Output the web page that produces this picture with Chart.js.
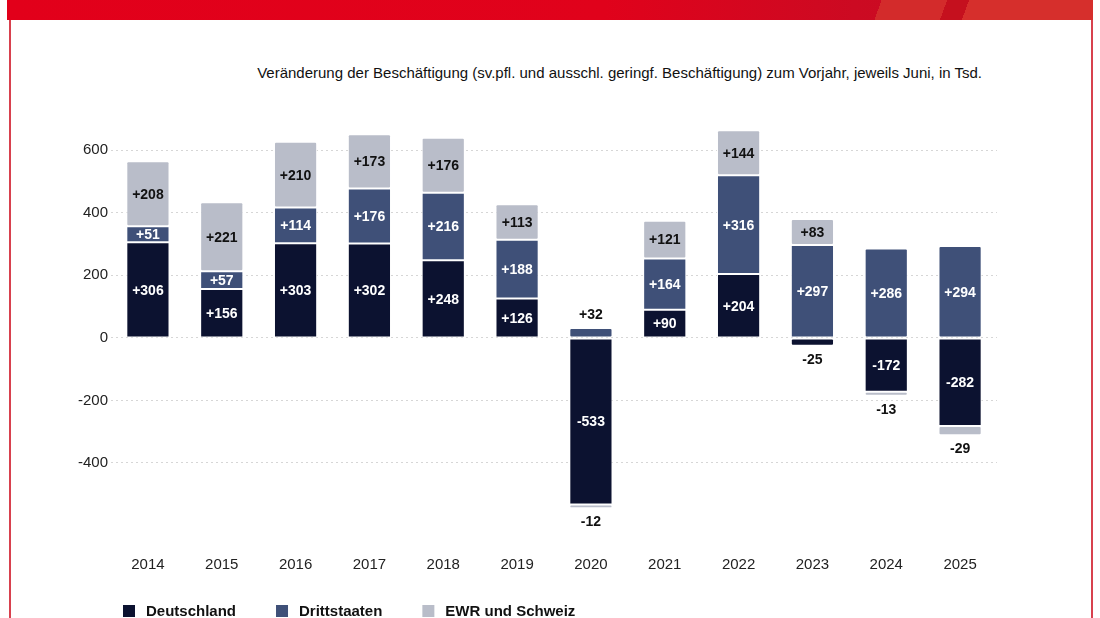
<!DOCTYPE html>
<html>
<head>
<meta charset="utf-8">
<script src="https://cdn.jsdelivr.net/npm/chart.js@4"></script>
<style>
  html, body { margin: 0; padding: 0; background: #fff; }
  #wrap { position: relative; width: 1100px; height: 618px; overflow: hidden; }
  #frame {
    position: absolute; left: 9px; top: 0; width: 1080px; height: 640px;
    border-left: 2px solid #d8414e; border-right: 2px solid #d8414e;
  }
  #band {
    position: absolute; left: 7px; top: 0; width: 1086px; height: 20px;
    background:
      linear-gradient(110deg, transparent 0 80%, #d32b2b 80% 86%, #c5101e 86% 88%, #d62f2c 88% 100%),
      linear-gradient(90deg, #e2001a 0%, #e0021b 55%, #cc0a22 78%, #c40d24 100%);
  }
  #title {
    position: absolute; right: 118px; top: 64px;
    font: 15px "Liberation Sans", Arial, sans-serif; color: #111;
    white-space: nowrap;
  }
  #chart { position: absolute; left: 0; top: 0; }
</style>
</head>
<body>
<div id="wrap">
  <div id="frame"></div>
  <div id="band"></div>
  <div id="title">Veränderung der Beschäftigung (sv.pfl. und ausschl. geringf. Beschäftigung) zum Vorjahr, jeweils Juni, in Tsd.</div>
  <canvas id="chart" width="1100" height="618"></canvas>
</div>
<script>
const years = ['2014', '2015', '2016', '2017', '2018', '2019', '2020', '2021', '2022', '2023', '2024', '2025'];
const deutschland = [306, 156, 303, 302, 248, 126, -533, 90, 204, -25, -172, -282];
const drittstaaten = [51, 57, 114, 176, 216, 188, 32, 164, 316, 297, 286, 294];
const ewrSchweiz = [208, 221, 210, 173, 176, 113, -12, 121, 144, 83, -13, -29];
const yTicks = [-400, -200, 0, 200, 400, 600];

const FONT = '"Liberation Sans", Arial, sans-serif';

// labels on the bar segments
const barLabels = {
    id: 'barLabels',
    afterDatasetsDraw(chart) {
        const ctx = chart.ctx;
        ctx.save();
        ctx.font = 'bold 14px ' + FONT;
        ctx.textAlign = 'center';
        ctx.textBaseline = 'middle';
        chart.data.datasets.forEach((ds, i) => {
            const meta = chart.getDatasetMeta(i);
            meta.data.forEach((bar, j) => {
                const v = ds.data[j];
                const p = bar.getProps(['x', 'y', 'base'], true);
                const h = Math.abs(p.base - p.y);
                const text = (v > 0 ? '+' : '') + v;
                let ty;
                if (h < 14) {
                    ctx.fillStyle = '#111';
                    ty = v > 0 ? Math.min(p.y, p.base) - 13 : Math.max(p.y, p.base) + 14;
                } else {
                    ctx.fillStyle = ds.labelColor;
                    ty = (p.y + p.base) / 2 + 1;
                }
                ctx.fillText(text, p.x, ty);
            });
        });
        ctx.restore();
    }
};

// legend under the axis
const bottomLegend = {
    id: 'bottomLegend',
    afterDraw(chart) {
        const ctx = chart.ctx;
        ctx.save();
        ctx.font = 'bold 15px ' + FONT;
        ctx.textBaseline = 'middle';
        let x = 123;
        const y = 611;
        chart.data.datasets.forEach(ds => {
            ctx.fillStyle = ds.backgroundColor;
            ctx.fillRect(x, y - 6, 12, 12);
            ctx.fillStyle = '#111';
            ctx.fillText(ds.label, x + 23, y + 1);
            x += 23 + ctx.measureText(ds.label).width + 40;
        });
        ctx.restore();
    }
};

const ctx = document.getElementById('chart').getContext('2d');
new Chart(ctx, {
    type: 'bar',
    data: {
        labels: years,
        datasets: [
            { label: 'Deutschland', data: deutschland, backgroundColor: '#0c1230', labelColor: '#fff' },
            { label: 'Drittstaaten', data: drittstaaten, backgroundColor: '#3f5078', labelColor: '#fff' },
            { label: 'EWR und Schweiz', data: ewrSchweiz, backgroundColor: '#b9bdc9', labelColor: '#111' }
        ]
    },
    options: {
        responsive: false,
        animation: false,
        layout: { padding: { left: 70, right: 103, top: 119, bottom: 0 } },
        datasets: {
            bar: {
                barPercentage: 0.585,
                categoryPercentage: 1,
                borderColor: '#fff',
                borderWidth: 1,
                borderSkipped: false,
                borderRadius: 2
            }
        },
        plugins: {
            legend: { display: false },
            tooltip: { enabled: false }
        },
        scales: {
            x: {
                stacked: true,
                grid: { display: false },
                border: { display: false },
                ticks: { color: '#222', font: { size: 15, family: FONT }, padding: 22 },
                afterFit(scale) { scale.height = 92.5; }
            },
            y: {
                stacked: true,
                min: -600,
                max: 700,
                afterBuildTicks(scale) {
                    scale.ticks = yTicks.map(v => ({ value: v }));
                },
                grid: { color: '#d6d6d6', drawTicks: false, lineWidth: 1 },
                border: { display: false, dash: [2, 3] },
                ticks: { color: '#222', font: { size: 15, family: FONT }, padding: 3 },
                afterFit(scale) { scale.width = 41; }
            }
        }
    },
    plugins: [barLabels, bottomLegend]
});
</script>
</body>
</html>
